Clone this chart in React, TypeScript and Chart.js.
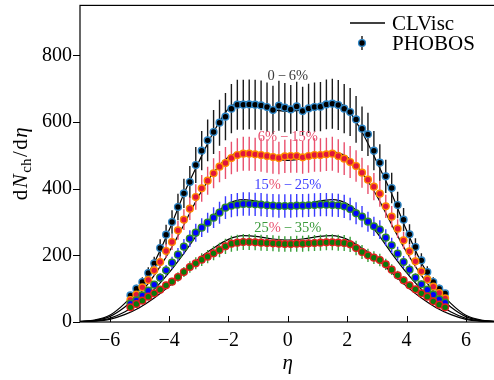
import { useEffect, useRef } from "react";
import { Chart, registerables } from "chart.js";

Chart.register(...registerables);

// ---- data ----
const etaData = [
  -5.3, -5.1, -4.9, -4.7, -4.5, -4.3, -4.1, -3.9, -3.7, -3.5, -3.3, -3.1, -2.9, -2.7,
  -2.5, -2.3, -2.1, -1.9, -1.7, -1.5, -1.3, -1.1, -0.9, -0.7, -0.5, -0.3, -0.1,
  0.1, 0.3, 0.5, 0.7, 0.9, 1.1, 1.3, 1.5, 1.7, 1.9, 2.1, 2.3, 2.5, 2.7, 2.9, 3.1,
  3.3, 3.5, 3.7, 3.9, 4.1, 4.3, 4.5, 4.7, 4.9, 5.1, 5.3,
];

const phobos0_6 = [
  80, 100, 120, 147, 176, 222, 262, 300, 345, 386, 420, 471, 514, 545,
  570, 598, 616, 640, 652, 652, 653, 652, 650, 645, 636, 649, 643,
  638, 647, 633, 641, 645, 646, 653, 655, 651, 640, 630, 608, 580, 563, 514, 478,
  437, 402, 351, 307, 263, 225, 185, 150, 120, 100, 86,
];
const err0_6 = [
  9, 12, 14, 17, 20, 26, 30, 35, 40, 44, 48, 54, 59, 63,
  66, 69, 71, 74, 75, 75, 75, 75, 75, 74, 73, 75, 74,
  73, 74, 73, 74, 74, 74, 75, 75, 75, 74, 72, 70, 67, 65, 59, 55,
  50, 46, 40, 35, 30, 26, 21, 17, 14, 12, 10,
];

const phobos6_15 = [
  66, 82, 104, 126, 155, 180, 213, 240, 275, 307, 340, 375, 401, 424,
  446, 466, 477, 492, 501, 505, 505, 503, 501, 498, 495, 492, 497,
  498, 498, 494, 498, 501, 501, 503, 505, 498, 490, 480, 468, 448, 427, 406, 385,
  347, 316, 280, 245, 212, 182, 152, 128, 106, 87, 71,
];
const err6_15 = [
  7, 8, 10, 13, 16, 18, 21, 24, 28, 31, 34, 38, 40, 42,
  45, 47, 48, 49, 50, 51, 51, 50, 50, 50, 50, 49, 50,
  50, 50, 49, 50, 50, 50, 50, 51, 50, 49, 48, 47, 45, 43, 41, 39,
  35, 32, 28, 25, 21, 18, 15, 13, 11, 9, 7,
];

const phobos15_25 = [
  55, 65, 80, 94, 112, 133, 155, 178, 202, 226, 250, 268, 283, 298,
  313, 328, 343, 349, 352, 354, 354, 353, 352, 350, 349, 348, 348,
  348, 349, 349, 350, 351, 352, 352, 351, 350, 347, 339, 326, 316, 301, 287, 277,
  253, 230, 205, 180, 157, 133, 113, 97, 82, 68, 58,
];
const err15_25 = [
  6, 7, 8, 9, 11, 13, 16, 18, 20, 23, 25, 27, 28, 30,
  31, 33, 34, 35, 35, 35, 35, 35, 35, 35, 35, 35, 35,
  35, 35, 35, 35, 35, 35, 35, 35, 35, 35, 34, 33, 32, 30, 29, 28,
  25, 23, 21, 18, 16, 13, 11, 10, 8, 7, 6,
];

const phobos25_35 = [
  44, 54, 64, 76, 86, 97, 110, 121, 135, 150, 165, 176, 187, 196,
  206, 216, 227, 235, 238, 240, 240, 239, 238, 237, 236, 235, 234,
  234, 235, 235, 236, 237, 238, 239, 239, 238, 237, 233, 222, 210, 200, 193, 186,
  173, 157, 140, 125, 110, 98, 86, 76, 62, 52, 44,
];
const err25_35 = [
  4, 5, 6, 8, 9, 10, 11, 12, 14, 15, 17, 18, 19, 20,
  21, 22, 23, 24, 24, 24, 24, 24, 24, 24, 24, 24, 23,
  23, 24, 24, 24, 24, 24, 24, 24, 24, 24, 23, 22, 21, 20, 19, 19,
  17, 16, 14, 13, 11, 10, 9, 8, 6, 5, 4,
];

const etaCurve = [
  -7, -6.5, -6, -5.5, -5, -4.5, -4, -3.5, -3, -2.5, -2, -1.5, -1, -0.5, 0,
  0.5, 1, 1.5, 2, 2.5, 3, 3.5, 4, 4.5, 5, 5.5, 6, 6.5, 7,
];
const clvisc0_6 = [
  2, 6, 20, 55, 105, 178, 275, 385, 480, 570, 640, 662, 652, 638, 632,
  638, 652, 662, 640, 570, 480, 385, 275, 178, 105, 55, 20, 6, 2,
];
const clvisc6_15 = [
  1.5, 5, 16, 44, 84, 140, 210, 292, 378, 448, 495, 510, 503, 490, 485,
  490, 503, 510, 495, 448, 378, 292, 210, 140, 84, 44, 16, 5, 1.5,
];
const clvisc15_25 = [
  1, 3.5, 11, 30, 58, 98, 148, 206, 268, 320, 355, 367, 362, 352, 348,
  352, 362, 367, 355, 320, 268, 206, 148, 98, 58, 30, 11, 3.5, 1,
];
const clvisc25_35 = [
  0.7, 2.5, 8, 22, 43, 72, 107, 148, 190, 222, 248, 259, 256, 249, 246,
  249, 256, 259, 248, 222, 190, 148, 107, 72, 43, 22, 8, 2.5, 0.7,
];

const xTicks = [-6, -4, -2, 0, 2, 4, 6];
const yTicks = [0, 200, 400, 600, 800];

// ---- styles ----
const SERIF = "'Liberation Serif', 'Times New Roman', serif";
const PINK = "#e8506e";

const pointSeries = [
  { vals: phobos0_6, errs: err0_6, fill: "#000000", edge: "#2f86c6", bar: "#1a1a1a", order: 4 },
  { vals: phobos6_15, errs: err6_15, fill: "#e0143c", edge: "#ff8c00", bar: "#e8506e", order: 3 },
  { vals: phobos15_25, errs: err15_25, fill: "#0000ff", edge: "#2e8b2e", bar: "#3b3bff", order: 2 },
  { vals: phobos25_35, errs: err25_35, fill: "#0a7a0a", edge: "#e02020", bar: "#3aa03a", order: 1 },
];
const curveSeries = [clvisc0_6, clvisc6_15, clvisc15_25, clvisc25_35];

const centLabels = [
  { y: 738, segs: [["0\u2009\u2212\u20096%", "#3a3a3a"]] },
  { y: 554, segs: [["6%\u2009\u2212\u200915%", PINK]] },
  { y: 412, segs: [["15", "#4040ff"], ["%", PINK], ["\u2009\u2212\u200925%", "#4040ff"]] },
  { y: 280, segs: [["25", "#3a9a3a"], ["%", PINK], ["\u2009\u2212\u200935%", "#3a9a3a"]] },
];

function drawSegs(ctx: CanvasRenderingContext2D, segs: any[], cx: number, cy: number, font: string) {
  ctx.font = font;
  let w = 0;
  for (const s of segs) w += ctx.measureText(s[0]).width;
  let x = cx - w / 2;
  ctx.textBaseline = "middle";
  ctx.textAlign = "left";
  for (const s of segs) {
    ctx.fillStyle = s[1];
    ctx.fillText(s[0], x, cy);
    x += ctx.measureText(s[0]).width;
  }
}

const errorBarPlugin = {
  id: "errorBars",
  beforeDatasetDraw(chart: any, args: any) {
    const ds = chart.data.datasets[args.index];
    if (!ds.errs) return;
    const ctx = chart.ctx;
    const xs = chart.scales.x;
    const ys = chart.scales.y;
    ctx.save();
    ctx.strokeStyle = ds.barColor;
    ctx.lineWidth = 1.4;
    ctx.beginPath();
    ds.data.forEach((p: any, i: number) => {
      const px = xs.getPixelForValue(p.x);
      ctx.moveTo(px, ys.getPixelForValue(p.y - ds.errs[i]));
      ctx.lineTo(px, ys.getPixelForValue(p.y + ds.errs[i]));
    });
    ctx.stroke();
    ctx.restore();
  },
};

const decorPlugin = {
  id: "decor",
  afterDraw(chart: any) {
    const ctx = chart.ctx as CanvasRenderingContext2D;
    const { left, top, right, bottom } = chart.chartArea;
    const xs = chart.scales.x;
    const ys = chart.scales.y;
    ctx.save();
    // frame (right side falls outside the visible window)
    ctx.strokeStyle = "#000";
    ctx.lineWidth = 1.2;
    ctx.strokeRect(left, top, right - left, bottom - top);
    // ticks
    ctx.lineWidth = 1;
    ctx.beginPath();
    for (const v of xTicks) {
      const px = Math.round(xs.getPixelForValue(v)) + 0.5;
      ctx.moveTo(px, bottom);
      ctx.lineTo(px, bottom - 6);
    }
    for (const v of yTicks) {
      const py = Math.round(ys.getPixelForValue(v)) + 0.5;
      ctx.moveTo(left, py);
      ctx.lineTo(left - 7, py);
    }
    ctx.stroke();

    // centrality labels
    for (const l of centLabels) {
      drawSegs(ctx, l.segs, xs.getPixelForValue(0), ys.getPixelForValue(l.y), `14.5px ${SERIF}`);
    }

    // legend
    ctx.strokeStyle = "#000";
    ctx.lineWidth = 1.3;
    ctx.beginPath();
    ctx.moveTo(350, 23);
    ctx.lineTo(385, 23);
    ctx.stroke();
    ctx.beginPath();
    ctx.moveTo(362, 36);
    ctx.lineTo(362, 50);
    ctx.stroke();
    ctx.beginPath();
    ctx.arc(362, 43, 3.4, 0, Math.PI * 2);
    ctx.fillStyle = "#000";
    ctx.fill();
    ctx.strokeStyle = "#2f86c6";
    ctx.lineWidth = 1.4;
    ctx.stroke();
    ctx.fillStyle = "#000";
    ctx.font = `21px ${SERIF}`;
    ctx.textAlign = "left";
    ctx.textBaseline = "middle";
    ctx.fillText("CLVisc", 392, 24);
    ctx.fillText("PHOBOS", 392, 44);

    // x title
    ctx.font = `italic 21px ${SERIF}`;
    ctx.textAlign = "center";
    ctx.textBaseline = "alphabetic";
    ctx.fillText("\u03b7", xs.getPixelForValue(0), 369);

    // y title
    ctx.translate(27, (top + bottom) / 2);
    ctx.rotate(-Math.PI / 2);
    const segs: [string, string, number][] = [
      ["d", `21px ${SERIF}`, 0],
      ["N", `italic 21px ${SERIF}`, 0],
      ["ch", `15px ${SERIF}`, 4],
      ["/", `21px ${SERIF}`, 0],
      ["d", `21px ${SERIF}`, 0],
      ["\u03b7", `italic 21px ${SERIF}`, 0],
    ];
    const gap = 1.5;
    let tw = 0;
    for (const s of segs) {
      ctx.font = s[1];
      tw += ctx.measureText(s[0]).width + gap;
    }
    tw -= gap;
    let x = -tw / 2;
    ctx.textAlign = "left";
    ctx.textBaseline = "alphabetic";
    ctx.fillStyle = "#000";
    for (const s of segs) {
      ctx.font = s[1];
      ctx.fillText(s[0], x, s[2]);
      x += ctx.measureText(s[0]).width + gap;
    }
    ctx.restore();
  },
};

export default function App() {
  const ref = useRef<HTMLCanvasElement | null>(null);

  useEffect(() => {
    document.body.style.margin = "0";
    document.body.style.overflow = "hidden";
    if (!ref.current) return;

    const datasets: any[] = [];
    pointSeries.forEach((s) => {
      datasets.push({
        data: etaData.map((x, i) => ({ x, y: s.vals[i] })),
        errs: s.errs,
        barColor: s.bar,
        showLine: false,
        pointRadius: 3.4,
        pointBorderWidth: 1.4,
        pointBackgroundColor: s.fill,
        pointBorderColor: s.edge,
        order: s.order,
      });
    });
    curveSeries.forEach((c) => {
      datasets.push({
        data: etaCurve.map((x, i) => ({ x, y: c[i] })),
        showLine: true,
        borderColor: "#000",
        borderWidth: 1.2,
        pointRadius: 0,
        cubicInterpolationMode: "monotone",
        order: 10,
      });
    });

    const chart = new Chart(ref.current, {
      type: "scatter",
      data: { datasets },
      options: {
        animation: false,
        responsive: false,
        devicePixelRatio: 1,
        layout: { padding: { top: 4, right: 1, left: 0, bottom: 0 } },
        plugins: { legend: { display: false }, tooltip: { enabled: false } },
        scales: {
          x: {
            type: "linear",
            min: -7,
            max: 7,
            grid: { display: false, drawTicks: false },
            border: { display: false },
            afterBuildTicks: (scale: any) => {
              scale.ticks = xTicks.map((v) => ({ value: v }));
            },
            afterFit: (scale: any) => {
              scale.height = 58;
            },
            ticks: {
              padding: 7,
              color: "#000",
              font: { family: SERIF, size: 20 },
              callback: (v: any) => (Number(v) < 0 ? "\u2212" + Math.abs(Number(v)) : String(v)),
            },
          },
          y: {
            type: "linear",
            min: 0,
            max: 950,
            grid: { display: false, drawTicks: false },
            border: { display: false },
            afterBuildTicks: (scale: any) => {
              scale.ticks = yTicks.map((v) => ({ value: v }));
            },
            afterFit: (scale: any) => {
              scale.width = 80;
              scale.paddingTop = 0;
              scale.paddingBottom = 0;
            },
            ticks: {
              padding: 8,
              color: "#000",
              font: { family: SERIF, size: 20 },
            },
          },
        },
      },
      plugins: [errorBarPlugin, decorPlugin],
    } as any);

    return () => chart.destroy();
  }, []);

  return (
    <div style={{ width: 494, height: 380, overflow: "hidden" }}>
      <canvas ref={ref} width={501} height={380} style={{ display: "block" }} />
    </div>
  );
}
